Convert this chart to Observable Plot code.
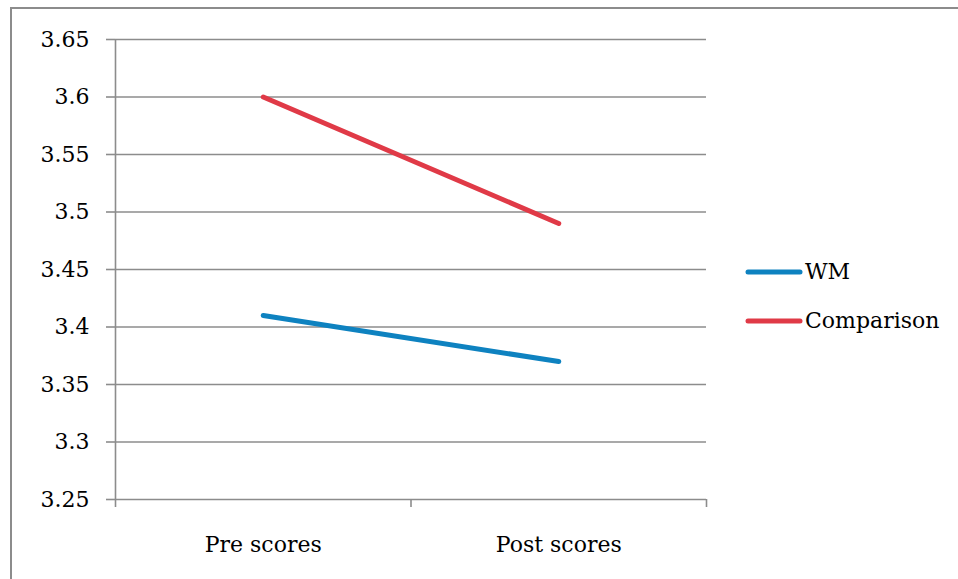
<!DOCTYPE html>
<html><head><meta charset="utf-8">
<script src="https://cdn.jsdelivr.net/npm/d3@7"></script>
<script src="https://cdn.jsdelivr.net/npm/@observablehq/plot@0.6"></script>
<style>
html,body{margin:0;padding:0;background:#fff;overflow:hidden}
#wrap{position:relative;width:958px;height:579px;overflow:hidden}
#frame{position:absolute;left:10px;top:7px;width:1000px;height:700px;border:2px solid #8c8c8c;box-sizing:border-box}
#chart{position:absolute;left:0;top:0}
#legend{position:absolute;left:745px;top:247px;font-family:"DejaVu Serif";font-size:22px;color:#000}
.row{display:flex;align-items:center;height:49px}
.row svg{margin-right:2px}
</style></head>
<body>
<div id="wrap"><div id="frame"></div><div id="chart"></div><div id="legend"></div></div>
<script>
const categories = ["Pre scores", "Post scores"];
const seriesNames = ["WM", "Comparison"];
const wmValues = [3.41, 3.37];
const comparisonValues = [3.60, 3.49];
const yTicks = [3.25, 3.3, 3.35, 3.4, 3.45, 3.5, 3.55, 3.6, 3.65];
const seriesColors = ["#0e82c0", "#e03a47"];

const seriesValues = [wmValues, comparisonValues];
const rows = [];
seriesNames.forEach((s, si) => categories.forEach((c, ci) => rows.push({series: s, i: ci, value: seriesValues[si][ci]})));

const grid = "#8c8c8c";
const chart = Plot.plot({
  width: 958, height: 579,
  marginLeft: 115, marginRight: 252, marginTop: 39, marginBottom: 80,
  style: {fontFamily: "DejaVu Serif", fontSize: "22px", background: "transparent", color: "#000", overflow: "visible"},
  x: {type: "linear", domain: [0, categories.length], axis: null, label: null},
  y: {domain: [3.25, 3.65], axis: null, label: null},
  color: {domain: seriesNames, range: seriesColors},
  marks: [
    Plot.ruleY(yTicks, {stroke: grid, strokeWidth: 1.6}),
    Plot.ruleX([0], {stroke: grid, strokeWidth: 1.6}),
    Plot.axisY({ticks: yTicks, label: null, tickSize: 9, tickPadding: 17, stroke: grid, strokeWidth: 1.6, fill: "#000", strokeOpacity: 1, tickFormat: d3.format("~g")}),
    Plot.axisX({ticks: d3.range(categories.length + 1), label: null, tickSize: 8, tickFormat: () => "", stroke: grid, strokeWidth: 1.6, strokeOpacity: 1}),
    Plot.axisX({ticks: categories.map((_, i) => i + 0.5), label: null, tickSize: 0, tickPadding: 37, tickFormat: d => categories[Math.floor(d)], fill: "#000"}),
    Plot.line(rows, {x: d => d.i + 0.5, y: "value", stroke: "series", strokeWidth: 5, strokeLinecap: "round"})
  ]
});
document.getElementById("chart").appendChild(chart);

const legend = document.getElementById("legend");
seriesNames.forEach((s, i) => {
  const row = document.createElement("div");
  row.className = "row";
  row.innerHTML = `<svg width="58" height="10"><line x1="3" y1="5" x2="55" y2="5" stroke="${seriesColors[i]}" stroke-width="5" stroke-linecap="round"/></svg><span>${s}</span>`;
  legend.appendChild(row);
});
</script>
</body></html>
